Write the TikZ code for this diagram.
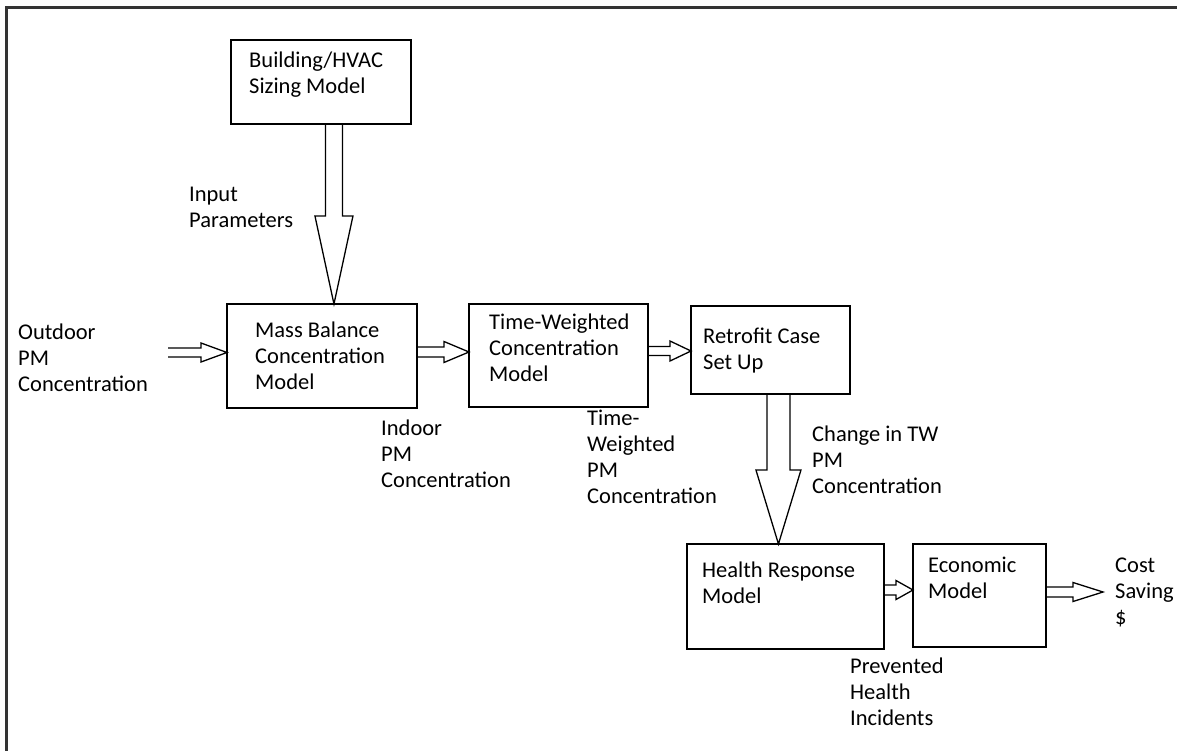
\documentclass[tikz,border=0pt]{standalone}
\usepackage{fontspec}
\setmainfont{Carlito}
\usepackage{tikz}
\usetikzlibrary{calc}
\newcommand{\flowfont}{\fontsize{22.5}{26}\selectfont}
% hollow block arrow: tail, tip, half shaft, half head, head length
\newcommand{\fatarrow}[5]{%
  \path (#1) coordinate (fa-s) (#2) coordinate (fa-e);
  \path ($(fa-e)!#5!(fa-s)$) coordinate (fa-h);
  \draw[fatline] ($(fa-s)!#3!90:(fa-e)$) -- ($(fa-h)!#3!90:(fa-e)$) -- ($(fa-h)!#4!90:(fa-e)$)
    -- (fa-e) -- ($(fa-h)!#4!-90:(fa-e)$) -- ($(fa-h)!#3!-90:(fa-e)$) -- ($(fa-s)!#3!-90:(fa-e)$);
}
\tikzset{
  modelbox/.style={draw, line width=1.6pt, outer sep=0pt, inner sep=0pt},
  flowtxt/.style={anchor=base west, align=left, inner sep=0pt, font=\flowfont},
  fatline/.style={line width=1.3pt, line join=miter},
}

\begin{document}
\begin{tikzpicture}[x=1pt, y=-1pt]
    \useasboundingbox (0,0) rectangle (1177,751);
    \draw[line width=2.5pt, black!80] (6.5,751) -- (6.5,7.5) -- (1177,7.5);

    % model boxes
    \node[modelbox, minimum width=180pt, minimum height=84pt] (bhs) at (321,82) {};
    \node[modelbox, minimum width=190pt, minimum height=104pt] (mb) at (322,356) {};
    \node[modelbox, minimum width=179pt, minimum height=103pt] (tw) at (558.5,355.5) {};
    \node[modelbox, minimum width=159pt, minimum height=88pt] (rc) at (770.5,350) {};
    \node[modelbox, minimum width=197pt, minimum height=105pt] (hr) at (785.5,596.5) {};
    \node[modelbox, minimum width=133pt, minimum height=103pt] (ec) at (979.5,595.5) {};

    % texts sit on the baseline of their last line
    \node[flowtxt] (bhs-t) at (249,94) {Building/HVAC\\Sizing Model};
    \node[flowtxt] (mb-t) at (255,389) {Mass Balance\\Concentration\\Model};
    \node[flowtxt] (tw-t) at (489,381) {Time-Weighted\\Concentration\\Model};
    \node[flowtxt] (rc-t) at (703,369) {Retrofit Case\\Set Up};
    \node[flowtxt] (hr-t) at (702,603) {Health Response\\Model};
    \node[flowtxt] (ec-t) at (928,598) {Economic\\Model};

    % flow labels
    \node[flowtxt] (inp) at (189,228) {Input\\Parameters};
    \node[flowtxt] (outpm) at (18,391) {Outdoor\\PM\\Concentration};
    \node[flowtxt] (inpm) at (381,487) {Indoor\\PM\\Concentration};
    \node[flowtxt] (twpm) at (587,503) {Time-\\Weighted\\PM\\Concentration};
    \node[flowtxt] (dpm) at (812,493) {Change in TW\\PM\\Concentration};
    \node[flowtxt] (phi) at (850,725) {Prevented\\Health\\Incidents};
    \node[flowtxt] (cost) at (1115,624) {Cost\\Saving\\\$};

    % arrows
    \coordinate (ip-top) at ($(bhs.south west)!0.572!(bhs.south east)$);
    \coordinate (ip-tip) at (ip-top |- mb.north);
    \fatarrow{ip-top}{ip-tip}{8.5pt}{19pt}{88pt}
    \coordinate (out-tail) at (168,352.5);
    \fatarrow{out-tail}{mb.west |- out-tail}{4.5pt}{9.5pt}{26pt}
    \coordinate (mb-out) at ([yshift=4pt]mb.east);
    \fatarrow{mb-out}{tw.west |- mb-out}{5pt}{10.5pt}{25pt}
    \coordinate (tw-out) at ([yshift=4.5pt]tw.east);
    \fatarrow{tw-out}{rc.west |- tw-out}{4.5pt}{10pt}{21pt}
    \coordinate (rc-out) at ($(rc.south west)!0.55!(rc.south east)$);
    \fatarrow{rc-out}{rc-out |- hr.north}{11.5pt}{22.5pt}{74pt}
    \coordinate (hr-out) at ([yshift=6.5pt]hr.east);
    \fatarrow{hr-out}{ec.west |- hr-out}{5pt}{9.5pt}{17pt}
    \coordinate (ec-out) at ([yshift=3.5pt]ec.east);
    \coordinate (cost-tip) at (1103,592);
    \fatarrow{ec-out}{cost-tip}{5pt}{9.5pt}{30pt}
\end{tikzpicture}
\end{document}
